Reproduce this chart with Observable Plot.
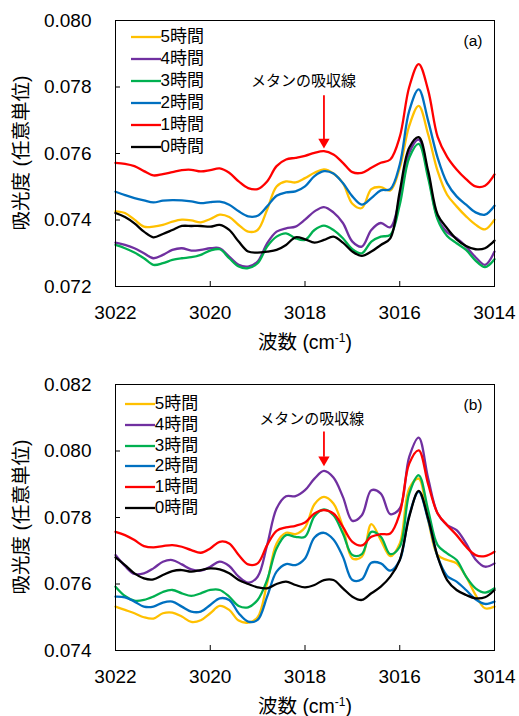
<!DOCTYPE html>
<html>
<head>
<meta charset="utf-8">
<script src="https://cdn.jsdelivr.net/npm/d3@7"></script>
<script src="https://cdn.jsdelivr.net/npm/@observablehq/plot@0.6"></script>
<style>
  html, body { margin: 0; padding: 0; background: #fff; }
  #root { position: relative; width: 519px; height: 716px; overflow: hidden;
          font-family: "Liberation Sans", Arial, "Noto Sans CJK JP", sans-serif; color: #000; }
  .panel { position: absolute; left: 0; }
  .xtitle { position: absolute; transform: translate(-50%, -50%); white-space: nowrap; font-size: 19.5px; }
  .xtitle sup { font-size: 12px; vertical-align: 7px; line-height: 0; }
  .ytitle { position: absolute; transform: translate(-50%, -50%) rotate(-90deg); white-space: nowrap; font-size: 19.5px; }
  .legend { position: absolute; }
  .legend .row { position: absolute; left: 0; height: 0; white-space: nowrap; font-size: 17px; }
  .legend .row svg { position: absolute; left: 0; top: -2px; }
  .legend .row span { position: absolute; top: -10px; line-height: 20px; }
</style>
</head>
<body>
<div id="root"></div>
<script>
// ---------- data ----------
const wavenumbers = [3022.0, 3021.8, 3021.6, 3021.4, 3021.2, 3021.0, 3020.8, 3020.6, 3020.4, 3020.2,
  3020.0, 3019.8, 3019.6, 3019.4, 3019.2, 3019.0, 3018.8, 3018.6, 3018.4, 3018.2,
  3018.0, 3017.8, 3017.6, 3017.4, 3017.2, 3017.0, 3016.8, 3016.6, 3016.4, 3016.2,
  3016.0, 3015.8, 3015.6, 3015.4, 3015.2, 3015.0, 3014.8, 3014.6, 3014.4, 3014.2, 3014.0];

const seriesNames = ["5時間", "4時間", "3時間", "2時間", "1時間", "0時間"];
const seriesColors = ["#FFC000", "#7030A0", "#00B050", "#0070C0", "#FF0000", "#000000"];

const xTicks = [3022, 3020, 3018, 3016, 3014];
const yTicksA = [0.072, 0.074, 0.076, 0.078, 0.080];
const yTicksB = [0.074, 0.076, 0.078, 0.080, 0.082];

// panel (a)
const a5h = [0.07426, 0.07421, 0.07401, 0.07380, 0.07380, 0.07385, 0.07395, 0.07401, 0.07399, 0.07393,
  0.07403, 0.07416, 0.07409, 0.07385, 0.07365, 0.07370, 0.07431, 0.07501, 0.07516, 0.07513,
  0.07526, 0.07542, 0.07552, 0.07540, 0.07511, 0.07449, 0.07436, 0.07493, 0.07499, 0.07489,
  0.07557, 0.07683, 0.07743, 0.07657, 0.07547, 0.07476, 0.07441, 0.07411, 0.07386, 0.07372, 0.07401];
const a4h = [0.07332, 0.07325, 0.07315, 0.07300, 0.07285, 0.07295, 0.07310, 0.07315, 0.07308, 0.07310,
  0.07315, 0.07315, 0.07290, 0.07265, 0.07260, 0.07275, 0.07330, 0.07365, 0.07375, 0.07380,
  0.07401, 0.07426, 0.07439, 0.07423, 0.07391, 0.07335, 0.07320, 0.07370, 0.07391, 0.07378,
  0.07466, 0.07602, 0.07642, 0.07537, 0.07406, 0.07363, 0.07345, 0.07320, 0.07288, 0.07265, 0.07305];
const a3h = [0.07325, 0.07315, 0.07302, 0.07285, 0.07265, 0.07270, 0.07280, 0.07285, 0.07288, 0.07295,
  0.07308, 0.07312, 0.07285, 0.07260, 0.07255, 0.07270, 0.07320, 0.07350, 0.07360, 0.07345,
  0.07340, 0.07370, 0.07383, 0.07370, 0.07345, 0.07312, 0.07300, 0.07335, 0.07350, 0.07355,
  0.07446, 0.07587, 0.07629, 0.07526, 0.07401, 0.07352, 0.07330, 0.07310, 0.07278, 0.07258, 0.07282];
const a2h = [0.07485, 0.07475, 0.07466, 0.07459, 0.07453, 0.07458, 0.07460, 0.07459, 0.07456, 0.07451,
  0.07454, 0.07455, 0.07446, 0.07426, 0.07411, 0.07413, 0.07441, 0.07473, 0.07483, 0.07486,
  0.07501, 0.07532, 0.07547, 0.07540, 0.07511, 0.07471, 0.07446, 0.07466, 0.07489, 0.07493,
  0.07567, 0.07728, 0.07793, 0.07698, 0.07587, 0.07511, 0.07471, 0.07446, 0.07423, 0.07416, 0.07443];
const a1h = [0.07572, 0.07569, 0.07562, 0.07547, 0.07534, 0.07538, 0.07544, 0.07550, 0.07551, 0.07546,
  0.07550, 0.07555, 0.07542, 0.07516, 0.07496, 0.07493, 0.07516, 0.07562, 0.07582, 0.07587,
  0.07593, 0.07602, 0.07607, 0.07597, 0.07572, 0.07544, 0.07542, 0.07557, 0.07572, 0.07582,
  0.07650, 0.07800, 0.07869, 0.07790, 0.07650, 0.07590, 0.07552, 0.07523, 0.07501, 0.07503, 0.07537];
const a0h = [0.07421, 0.07409, 0.07390, 0.07365, 0.07348, 0.07358, 0.07370, 0.07382, 0.07382, 0.07382,
  0.07380, 0.07385, 0.07370, 0.07335, 0.07305, 0.07302, 0.07305, 0.07310, 0.07325, 0.07348,
  0.07342, 0.07332, 0.07340, 0.07350, 0.07332, 0.07305, 0.07292, 0.07305, 0.07325, 0.07345,
  0.07486, 0.07617, 0.07649, 0.07547, 0.07416, 0.07375, 0.07342, 0.07322, 0.07312, 0.07315, 0.07338];

// panel (b)
const b5h = [0.07532, 0.07522, 0.07512, 0.07500, 0.07496, 0.07512, 0.07514, 0.07502, 0.07486, 0.07491,
  0.07512, 0.07534, 0.07522, 0.07490, 0.07484, 0.07500, 0.07602, 0.07722, 0.07754, 0.07750,
  0.07770, 0.07840, 0.07862, 0.07842, 0.07772, 0.07677, 0.07682, 0.07780, 0.07732, 0.07684,
  0.07722, 0.07887, 0.07917, 0.07792, 0.07687, 0.07672, 0.07662, 0.07622, 0.07567, 0.07527, 0.07532];
const b4h = [0.07687, 0.07654, 0.07630, 0.07632, 0.07647, 0.07667, 0.07672, 0.07659, 0.07644, 0.07640,
  0.07652, 0.07667, 0.07654, 0.07622, 0.07604, 0.07622, 0.07717, 0.07827, 0.07864, 0.07864,
  0.07882, 0.07917, 0.07940, 0.07920, 0.07862, 0.07790, 0.07807, 0.07882, 0.07872, 0.07810,
  0.07827, 0.07982, 0.08040, 0.07917, 0.07812, 0.07777, 0.07762, 0.07722, 0.07674, 0.07652, 0.07662];
const b3h = [0.07592, 0.07564, 0.07550, 0.07552, 0.07562, 0.07576, 0.07582, 0.07572, 0.07564, 0.07572,
  0.07582, 0.07582, 0.07562, 0.07534, 0.07530, 0.07552, 0.07612, 0.07707, 0.07747, 0.07742,
  0.07742, 0.07804, 0.07824, 0.07807, 0.07752, 0.07687, 0.07690, 0.07757, 0.07742, 0.07690,
  0.07712, 0.07872, 0.07927, 0.07822, 0.07717, 0.07692, 0.07672, 0.07622, 0.07587, 0.07574, 0.07587];
const b2h = [0.07562, 0.07560, 0.07547, 0.07532, 0.07532, 0.07544, 0.07547, 0.07532, 0.07517, 0.07517,
  0.07537, 0.07557, 0.07552, 0.07512, 0.07487, 0.07492, 0.07562, 0.07637, 0.07660, 0.07657,
  0.07677, 0.07740, 0.07754, 0.07734, 0.07682, 0.07612, 0.07614, 0.07664, 0.07662, 0.07640,
  0.07672, 0.07807, 0.07877, 0.07792, 0.07682, 0.07624, 0.07607, 0.07582, 0.07554, 0.07540, 0.07547];
const b1h = [0.07757, 0.07747, 0.07732, 0.07714, 0.07710, 0.07714, 0.07717, 0.07712, 0.07702, 0.07694,
  0.07707, 0.07727, 0.07722, 0.07687, 0.07659, 0.07662, 0.07717, 0.07760, 0.07770, 0.07775,
  0.07785, 0.07812, 0.07822, 0.07812, 0.07772, 0.07727, 0.07716, 0.07742, 0.07750, 0.07752,
  0.07812, 0.07962, 0.08002, 0.07900, 0.07812, 0.07777, 0.07747, 0.07712, 0.07687, 0.07684, 0.07697];
const b0h = [0.07680, 0.07657, 0.07632, 0.07617, 0.07614, 0.07627, 0.07639, 0.07642, 0.07637, 0.07642,
  0.07647, 0.07644, 0.07632, 0.07612, 0.07600, 0.07590, 0.07587, 0.07600, 0.07607, 0.07597,
  0.07590, 0.07597, 0.07612, 0.07612, 0.07587, 0.07562, 0.07552, 0.07572, 0.07592, 0.07622,
  0.07672, 0.07802, 0.07880, 0.07797, 0.07682, 0.07612, 0.07582, 0.07567, 0.07557, 0.07560, 0.07582];

const annotLabel = "メタンの吸収線";
const annotA = {tx: 3018.03, ty: 0.07817, ax: 3017.60, ay1: 0.07774, ay2: 0.07624};
const annotB = {tx: 3017.86, ty: 0.08097, ax: 3017.60, ay1: 0.08057, ay2: 0.07963};

const xTitle = "波数 (cm<sup>-1</sup>)";
const yTitle = "吸光度 (任意単位)";

// ---------- build ----------
function toLong(seriesArrays) {
  const out = [];
  seriesArrays.forEach((vals, si) => {
    vals.forEach((v, i) => out.push({wn: wavenumbers[i], v, series: seriesNames[si]}));
  });
  return out;
}
const dataA = toLong([a5h, a4h, a3h, a2h, a1h, a0h]);
const dataB = toLong([b5h, b4h, b3h, b2h, b1h, b0h]);

const FONT = "'Liberation Sans', Arial, 'Noto Sans CJK JP', sans-serif";

function panel(data, yTicks, annot, tag) {
  return Plot.plot({
    width: 519, height: 358,
    marginLeft: 115, marginRight: 25, marginTop: 20, marginBottom: 72,
    style: {fontFamily: FONT, fontSize: "19px", color: "#000", background: "transparent", overflow: "visible"},
    x: {domain: [3022, 3014]},
    y: {domain: [yTicks[0], yTicks[yTicks.length - 1]]},
    color: {domain: seriesNames, range: seriesColors},
    marks: [
      Plot.axisX({ticks: xTicks, tickSize: 0, tickPadding: 19, tickFormat: d => String(d), label: null, fontSize: 19}),
      Plot.axisX({ticks: xTicks, tickSize: -5, tickFormat: () => "", label: null, strokeWidth: 1}),
      Plot.axisY({ticks: yTicks, tickSize: 0, tickPadding: 24, tickFormat: d3.format(".3f"), label: null, fontSize: 19}),
      Plot.axisY({ticks: yTicks, tickSize: -5, tickFormat: () => "", label: null, strokeWidth: 1}),
      Plot.line(data, {x: "wn", y: "v", z: "series", stroke: "series", strokeWidth: 2.3, curve: "catmull-rom"}),
      Plot.ruleX([annot], {x: "ax", y1: "ay1", y2: "ay2", stroke: "#FF0000", strokeWidth: 1.8, insetBottom: 6}),
      Plot.dot([annot], {x: "ax", y: "ay2", symbol: "triangle", rotate: 180, fill: "#FF0000", stroke: null, r: 4.2, dy: -3.5}),
      Plot.text([annot], {x: "tx", y: "ty", text: () => annotLabel, fontSize: 15, fill: "#000", fontFamily: FONT}),
      Plot.text([tag], {text: d => d, frameAnchor: "top-right", textAnchor: "end", lineAnchor: "middle", dx: -12, dy: 21, fontSize: 15.5, fill: "#000"}),
      Plot.frame({stroke: "#000", strokeWidth: 1})
    ]
  });
}

const root = document.getElementById("root");

function addPanel(top, data, yTicks, annot, tag, legendLeft, legendTop, legendStep) {
  const svg = panel(data, yTicks, annot, tag);
  const wrap = document.createElement("div");
  wrap.className = "panel";
  wrap.style.top = top + "px";
  wrap.appendChild(svg);
  root.appendChild(wrap);

  // legend inside the plot area
  const lg = document.createElement("div");
  lg.className = "legend";
  lg.style.left = legendLeft + "px";
  lg.style.top = (top + legendTop) + "px";
  seriesNames.forEach((name, i) => {
    const row = document.createElement("div");
    row.className = "row";
    row.style.top = (i * legendStep) + "px";
    row.innerHTML = `<svg width="30" height="4"><line x1="0" x2="30" y1="2" y2="2" stroke="${seriesColors[i]}" stroke-width="2.3"/></svg><span style="left:30px">${name}</span>`;
    lg.appendChild(row);
  });
  root.appendChild(lg);

  const xt = document.createElement("div");
  xt.className = "xtitle";
  xt.style.left = "305px";
  xt.style.top = (top + 340) + "px";
  xt.innerHTML = xTitle;
  root.appendChild(xt);

  const yt = document.createElement("div");
  yt.className = "ytitle";
  yt.style.left = "18.5px";
  yt.style.top = (top + 153) + "px";
  yt.textContent = yTitle;
  root.appendChild(yt);
}

addPanel(0, dataA, yTicksA, annotA, "(a)", 130.5, 36.7, 22.1);
addPanel(364, dataB, yTicksB, annotB, "(b)", 124.7, 40, 20.8);
</script>
</body>
</html>
